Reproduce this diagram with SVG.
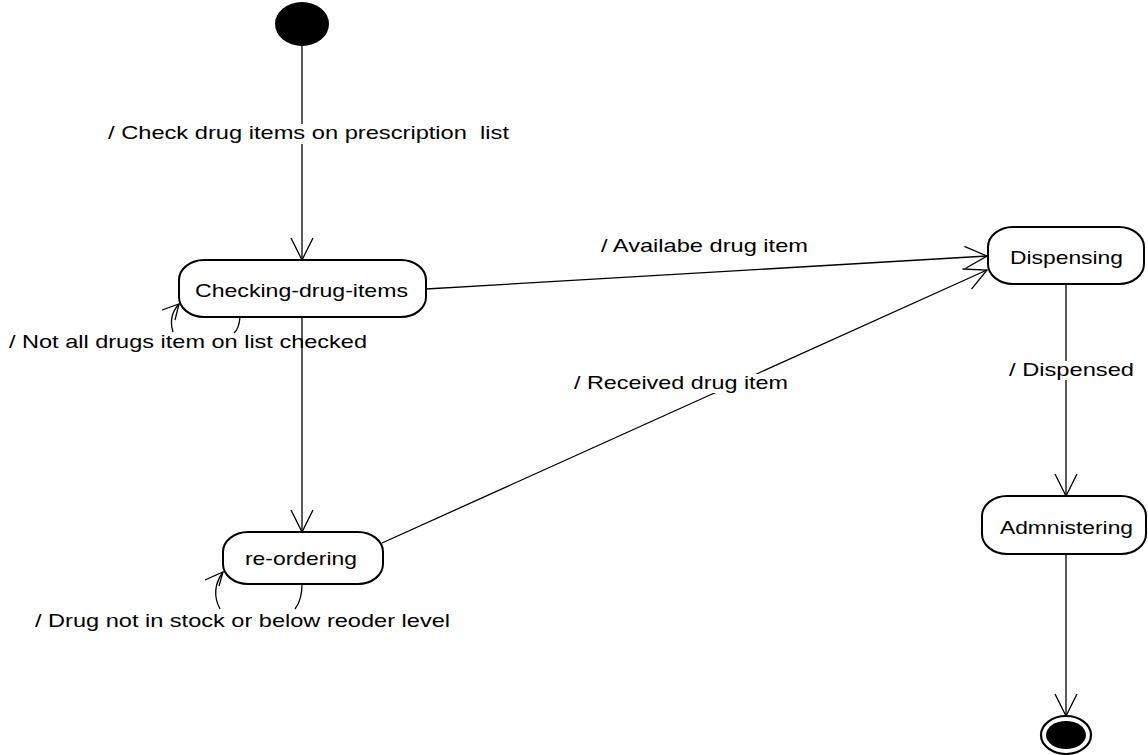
<svg xmlns="http://www.w3.org/2000/svg" width="1148" height="755" viewBox="0 0 1148 755">
<style>
.node{fill:#fff;stroke:#000;stroke-width:2}
.ntext{font-family:"Liberation Sans",Arial,sans-serif;font-size:19px;fill:#000;text-anchor:start}
.ltext{font-family:"Liberation Sans",Arial,sans-serif;font-size:18.5px;fill:#000}
.edge{fill:none;stroke:#000;stroke-width:1.3}
.bg{fill:#fff;stroke:none}
</style>
<defs>
<marker id="arr" markerUnits="userSpaceOnUse" markerWidth="30" markerHeight="30" viewBox="-25 -15 30 30" refX="0" refY="0" orient="auto" overflow="visible">
<path d="M -22 -11 L 0 0 L -22 11" fill="none" stroke="#000" stroke-width="1.3"/>
</marker>
</defs>
<rect width="1148" height="755" fill="#fff"/>
<g id="connectors">
<line class="edge" x1="302" y1="46" x2="302" y2="260" marker-end="url(#arr)"/>
<line class="edge" x1="426" y1="289" x2="987" y2="256" marker-end="url(#arr)"/>
<line class="edge" x1="382" y1="543" x2="987" y2="270" marker-end="url(#arr)"/>
<line class="edge" x1="1066" y1="284" x2="1066" y2="496" marker-end="url(#arr)"/>
<line class="edge" x1="1066" y1="554" x2="1066" y2="716" marker-end="url(#arr)"/>
<path class="edge" d="M 240 317 Q 239 329 234 333"/>
<path class="edge" d="M 173 332 Q 168 316 179 304"/>
<path class="edge" d="M 162 310 L 179 304 L 175 320"/>
<path class="edge" d="M 302 584 Q 302 600 295 609"/>
<path class="edge" d="M 220 609 Q 210 590 223 572"/>
<path class="edge" d="M 205 580 L 223 572 L 219 586"/>
<line class="edge" x1="302" y1="317" x2="302" y2="532" marker-end="url(#arr)"/>
</g>
<g id="labels">
<rect class="bg" x="106" y="124" width="405" height="20"/>
<text class="ltext" x="108" y="139" textLength="401" lengthAdjust="spacingAndGlyphs" xml:space="preserve">/ Check drug items on prescription  list</text>
<text class="ltext" x="601" y="252" textLength="207" lengthAdjust="spacingAndGlyphs">/ Availabe drug item</text>
<text class="ltext" x="9" y="348" textLength="358" lengthAdjust="spacingAndGlyphs">/ Not all drugs item on list checked</text>
<rect class="bg" x="572" y="374" width="218" height="19"/>
<text class="ltext" x="574" y="389" textLength="214" lengthAdjust="spacingAndGlyphs">/ Received drug item</text>
<rect class="bg" x="1007" y="361" width="129" height="19"/>
<text class="ltext" x="1009" y="376" textLength="125" lengthAdjust="spacingAndGlyphs">/ Dispensed</text>
<text class="ltext" x="35" y="627" textLength="415" lengthAdjust="spacingAndGlyphs">/ Drug not in stock or below reoder level</text>
</g>
<g id="initial">
<ellipse cx="302" cy="24" rx="27" ry="22" fill="#000"/>
</g>
<g id="checking">
<rect class="node" x="179" y="260" width="247" height="57" rx="25" ry="20"/>
<text class="ntext" x="195" y="297" textLength="213" lengthAdjust="spacingAndGlyphs">Checking-drug-items</text>
</g>
<g id="dispensing">
<rect class="node" x="988" y="227" width="156" height="57" rx="25" ry="20"/>
<text class="ntext" x="1010" y="264" textLength="113" lengthAdjust="spacingAndGlyphs">Dispensing</text>
</g>
<g id="admnistering">
<rect class="node" x="982" y="496" width="164" height="58" rx="25" ry="20"/>
<text class="ntext" x="1000" y="534" textLength="133" lengthAdjust="spacingAndGlyphs">Admnistering</text>
</g>
<g id="reordering">
<rect class="node" x="223" y="532" width="160" height="52" rx="25" ry="20"/>
<text class="ntext" x="245" y="565" textLength="112" lengthAdjust="spacingAndGlyphs">re-ordering</text>
</g>
<g id="final">
<ellipse cx="1066" cy="735" rx="25" ry="19" fill="#fff" stroke="#000" stroke-width="2.2"/>
<ellipse cx="1066" cy="735" rx="20" ry="14" fill="#000"/>
</g>
</svg>
